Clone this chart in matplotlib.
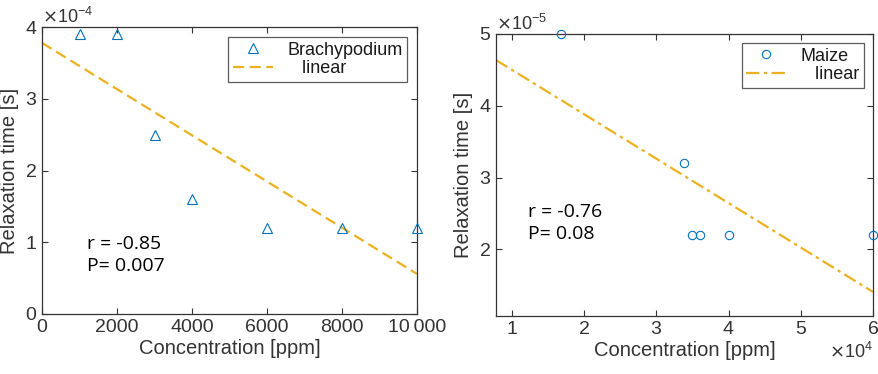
import numpy as np
import matplotlib.pyplot as plt
from matplotlib.ticker import ScalarFormatter, FuncFormatter

# Brachypodium
brachy_conc = [1000, 2000, 3000, 4000, 6000, 8000, 10000]
brachy_time = [3.9e-4, 3.9e-4, 2.5e-4, 1.6e-4, 1.2e-4, 1.2e-4, 1.2e-4]
brachy_stats = "r = -0.85\nP= 0.007"

# Maize
maize_conc = [1.68e4, 3.38e4, 3.5e4, 3.6e4, 4.0e4, 6.0e4]
maize_time = [5.0e-5, 3.2e-5, 2.2e-5, 2.2e-5, 2.2e-5, 2.2e-5]
maize_stats = "r = -0.76\nP= 0.08"

blue = "#0072BD"
orange = "#EDB120"
dark = "#333333"

plt.rcParams["font.family"] = ["Liberation Sans", "DejaVu Sans"]
plt.rcParams["axes.formatter.use_mathtext"] = True

fig = plt.figure(figsize=(8.79, 3.74), dpi=100)
W, H = 879, 374
ax1 = fig.add_axes([42 / W, (H - 314) / H, 375 / W, 287 / H])
ax2 = fig.add_axes([496 / W, (H - 316) / H, 377 / W, 282 / H])


def style(ax):
    for s in ax.spines.values():
        s.set_color(dark)
        s.set_linewidth(0.9)
    ax.tick_params(direction="in", top=True, right=True, length=4,
                   labelsize=14, colors=dark, width=0.8)
    ax.set_xlabel("Concentration [ppm]", fontsize=14.5, color=dark, labelpad=2)
    ax.set_ylabel("Relaxation time [s]", fontsize=14.5, color=dark, labelpad=4)


def add_legend(ax, anchor):
    leg = ax.legend(loc="upper right", bbox_to_anchor=anchor, borderaxespad=0,
                    fontsize=13, frameon=True, fancybox=False,
                    handlelength=2.2, borderpad=0.25, labelspacing=0.1,
                    handletextpad=0.8)
    leg.get_frame().set_edgecolor(dark)
    leg.get_frame().set_linewidth(0.9)
    for t in leg.get_texts():
        t.set_color("#1a1a1a")


# left panel
x = np.array(brachy_conc)
y = np.array(brachy_time)
ax1.plot(x, y, linestyle="none", marker="^", ms=7, mfc="none", mec=blue,
         mew=0.8, label="Brachypodium", clip_on=False, zorder=3)
fit = np.poly1d(np.polyfit(x, y, 1))
xl = np.array([0, 10000])
ax1.plot(xl, fit(xl), linestyle=(0, (5, 2.5)), color=orange, lw=1.6,
         label="   linear")
ax1.set_xlim(0, 10000)
ax1.set_ylim(0, 4e-4)
ax1.set_xticks([0, 2000, 4000, 6000, 8000, 10000])
ax1.xaxis.set_major_formatter(FuncFormatter(
    lambda v, p: f"{v:,.0f}".replace(",", "\u2009") if v >= 10000 else f"{v:.0f}"))
ax1.set_yticks([0, 1e-4, 2e-4, 3e-4, 4e-4])
fmt1 = ScalarFormatter(useMathText=True)
fmt1.set_powerlimits((-3, 3))
ax1.yaxis.set_major_formatter(fmt1)
style(ax1)
ax1.yaxis.get_offset_text().set_fontsize(13)
ax1.text(0.12, 0.275, brachy_stats, transform=ax1.transAxes, va="top",
         ha="left", fontsize=14, family=["Open Sans", "DejaVu Sans"],
         linespacing=1.25)
add_legend(ax1, (0.973, 0.965))

# right panel
x = np.array(maize_conc)
y = np.array(maize_time)
ax2.plot(x, y, linestyle="none", marker="o", ms=6, mfc="none", mec=blue,
         mew=0.8, label="Maize", clip_on=False, zorder=3)
fit = np.poly1d(np.polyfit(x, y, 1))
xl = np.array([0.78e4, 6e4])
ax2.plot(xl, fit(xl), linestyle=(0, (6, 2, 1.5, 2)), color=orange, lw=1.6,
         label="   linear")
ax2.set_xlim(0.78e4, 6e4)
ax2.set_ylim(1.07e-5, 5e-5)
ax2.set_xticks([1e4, 2e4, 3e4, 4e4, 5e4, 6e4])
ax2.set_yticks([2e-5, 3e-5, 4e-5, 5e-5])
fmt2x = ScalarFormatter(useMathText=True)
fmt2x.set_powerlimits((-3, 3))
ax2.xaxis.set_major_formatter(fmt2x)
fmt2y = ScalarFormatter(useMathText=True)
fmt2y.set_powerlimits((-3, 3))
ax2.yaxis.set_major_formatter(fmt2y)
style(ax2)
ax2.yaxis.get_offset_text().set_fontsize(13)
ax2.xaxis.get_offset_text().set_fontsize(13)
ax2.text(0.085, 0.40, maize_stats, transform=ax2.transAxes, va="top",
         ha="left", fontsize=14, family=["Open Sans", "DejaVu Sans"],
         linespacing=1.25)
add_legend(ax2, (0.976, 0.968))

fig.savefig("out.png", dpi=100)
